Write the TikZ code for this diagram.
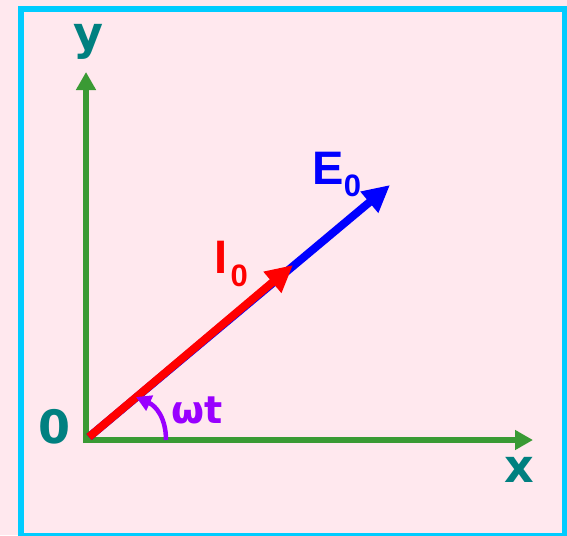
\documentclass[tikz,border=0pt]{standalone}
\usepackage{fontspec}
\setmainfont{Liberation Sans}
\newfontfamily\dvfont{DejaVu Sans}
\usetikzlibrary{arrows.meta}
\definecolor{bgpink}{RGB}{255,232,238}
\definecolor{framecyan}{RGB}{0,204,255}
\definecolor{axisgreen}{RGB}{58,154,52}
\definecolor{labelteal}{RGB}{0,128,128}
\definecolor{arcpurple}{RGB}{153,0,255}
\tikzset{
  axis/.style={draw=axisgreen, line width=6pt, -{Triangle[length=18pt,width=19pt]}},
  phasor/.style={line width=8pt, -{Triangle[length=27pt,width=26pt]}},
  axislabel/.style={text=labelteal, font=\dvfont\bfseries\fontsize{46}{50}\selectfont, inner sep=0pt, anchor=base},
  veclabel/.style={font=\bfseries\fontsize{47}{50}\selectfont, inner sep=0pt, anchor=base west},
  sub/.style={font=\bfseries\fontsize{31}{33}\selectfont, inner sep=0pt, anchor=base west}
}
\begin{document}
\begin{tikzpicture}[x=1pt,y=-1pt]
\useasboundingbox (0,0) rectangle (567,535);
\fill[bgpink] (0,0) rectangle (567,535);
\draw[framecyan, line width=5.5pt] (21,9) rectangle (565,536);
% coordinates
\coordinate (O) at (86,440);
\coordinate (Ob) at (86,443);
\coordinate (Ol) at (83,440);
\coordinate (Ytip) at (86,72);
\coordinate (Xtip) at (533,440);
\coordinate (P) at (89,437);
\coordinate (Etip) at (390,185);
\coordinate (Itip) at (293,265);
\coordinate (A1) at (166,440);
\coordinate (A2) at (136,397);
% axes
\draw[axis] (Ob) -- (Ytip);
\draw[axis] (Ol) -- (Xtip);
% phasors
\draw[phasor, draw=blue, fill=blue] (P) -- (Etip);
\draw[phasor, draw=red, fill=red] (P) -- (Itip);
% angle arc
\draw[arcpurple, line width=4.5pt, -{Triangle[length=15pt,width=16pt]}] (A1) .. controls (166,418) and (156,406) .. (A2);
% labels
\node[axislabel] (ylab) at (88,50) {y};
\node[axislabel] (zlab) at (55,443) {0};
\node[axislabel] (xlab) at (519,482) {x};
\node[text=arcpurple, font=\dvfont\bfseries\fontsize{38}{40}\selectfont, inner sep=0pt, anchor=base] (wt) at (197,423) {ωt};
\node[veclabel, text=blue] (E) at (312,184) {E};
\node[sub, text=blue] (E0) at (E.base east) {\raisebox{-12pt}{0}};
\node[veclabel, text=red] (I) at (214,273) {I};
\node[sub, text=red] (I0) at ([xshift=3pt]I.base east) {\raisebox{-13pt}{0}};
\end{tikzpicture}
\end{document}
